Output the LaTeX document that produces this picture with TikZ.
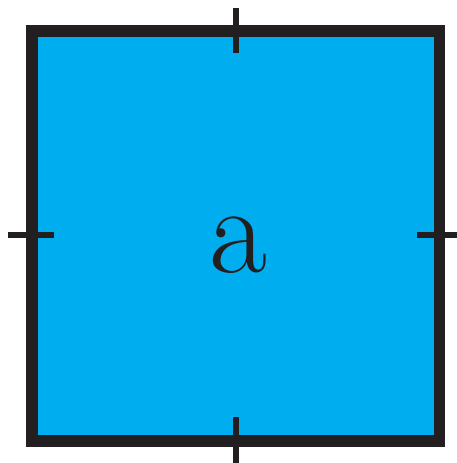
\documentclass[tikz,border=0pt]{standalone}
\definecolor{sqblue}{HTML}{00AEEF}
\definecolor{sqdark}{HTML}{231F20}
\tikzset{
  sqbox/.style={draw=sqdark, fill=sqblue, line width=11.5pt, minimum width=407.5pt, minimum height=410pt, inner sep=0pt, rectangle},
  tick/.style={draw=sqdark, line width=6pt},
  lbl/.style={text=sqdark, inner sep=0pt, font=\fontsize{126}{130}\selectfont}
}
\begin{document}
\begin{tikzpicture}[x=1pt,y=1pt]
\useasboundingbox (0,0) rectangle (456,463);
\node[sqbox] (sq) at (235.75,227) {};
\node[lbl, anchor=base] (a) at (238,190) {a};
\coordinate (t1) at (236,455);
\coordinate (t2) at (236,410);
\coordinate (l1) at (8,228);
\coordinate (l2) at (54,228);
\coordinate (r1) at (417,228);
\coordinate (r2) at (462,228);
\coordinate (b1) at (236,46);
\coordinate (b2) at (236,-5);
\draw[tick] (t1) -- (t2);
\draw[tick] (l1) -- (l2);
\draw[tick] (r1) -- (r2);
\draw[tick] (b1) -- (b2);
\end{tikzpicture}
\end{document}
